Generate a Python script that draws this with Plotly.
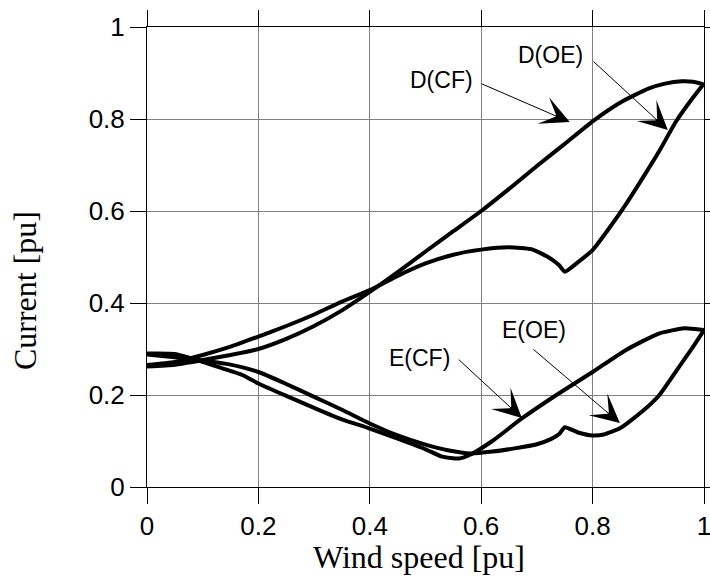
import plotly.graph_objects as go

# ---- data ----
dcf_x = [0, 0.05, 0.1, 0.15, 0.2, 0.25, 0.3, 0.35, 0.4, 0.45, 0.5, 0.55, 0.6, 0.65, 0.7, 0.75, 0.8, 0.85, 0.9, 0.93, 0.96, 0.98, 1.0]
dcf_y = [0.262, 0.266, 0.276, 0.287, 0.300, 0.322, 0.350, 0.384, 0.424, 0.467, 0.512, 0.556, 0.600, 0.648, 0.698, 0.746, 0.795, 0.836, 0.866, 0.877, 0.882, 0.881, 0.875]

doe_x = [0, 0.05, 0.1, 0.15, 0.2, 0.25, 0.3, 0.35, 0.4, 0.45, 0.5, 0.55, 0.6, 0.65, 0.69, 0.72, 0.74, 0.75, 0.775, 0.8, 0.83, 0.86, 0.89, 0.92, 0.95, 0.975, 1.0]
doe_y = [0.265, 0.272, 0.287, 0.305, 0.327, 0.350, 0.375, 0.403, 0.428, 0.459, 0.486, 0.505, 0.516, 0.521, 0.517, 0.500, 0.482, 0.468, 0.490, 0.515, 0.563, 0.615, 0.672, 0.731, 0.795, 0.838, 0.877]

ecf_x = [0, 0.05, 0.1, 0.135, 0.172, 0.2, 0.25, 0.3, 0.35, 0.4, 0.45, 0.5, 0.53, 0.56, 0.58, 0.62, 0.673, 0.735, 0.8, 0.86, 0.92, 0.965, 1.0]
ecf_y = [0.290, 0.289, 0.272, 0.258, 0.243, 0.225, 0.198, 0.172, 0.147, 0.127, 0.105, 0.082, 0.066, 0.062, 0.070, 0.100, 0.149, 0.200, 0.250, 0.298, 0.334, 0.345, 0.341]

eoe_x = [0, 0.05, 0.1, 0.15, 0.2, 0.25, 0.3, 0.35, 0.4, 0.45, 0.5, 0.54, 0.58, 0.62, 0.66, 0.7, 0.725, 0.74, 0.75, 0.775, 0.8, 0.82, 0.85, 0.89, 0.92, 0.95, 0.98, 1.0]
eoe_y = [0.288, 0.282, 0.275, 0.266, 0.250, 0.224, 0.196, 0.168, 0.138, 0.112, 0.092, 0.080, 0.073, 0.077, 0.084, 0.093, 0.104, 0.115, 0.130, 0.118, 0.112, 0.114, 0.128, 0.165, 0.200, 0.252, 0.304, 0.341]

tick_vals = [0, 0.2, 0.4, 0.6, 0.8, 1.0]
tick_text = ["0", "0.2", "0.4", "0.6", "0.8", "1"]

labels = ["D(CF)", "D(OE)", "E(CF)", "E(OE)"]
label_x = [0.528, 0.724, 0.490, 0.695]
label_y = [0.885, 0.939, 0.280, 0.341]
arrow_tail_x = [0.598, 0.799, 0.557, 0.691]
arrow_tail_y = [0.878, 0.928, 0.280, 0.302]
arrow_head_x = [0.759, 0.935, 0.673, 0.849]
arrow_head_y = [0.7935, 0.776, 0.150, 0.139]

fig = go.Figure()
for xs, ys in [(dcf_x, dcf_y), (doe_x, doe_y), (ecf_x, ecf_y), (eoe_x, eoe_y)]:
    fig.add_trace(go.Scatter(x=xs, y=ys, mode="lines",
                             line=dict(color="black", width=4, shape="spline", smoothing=0.5),
                             hoverinfo="skip"))

for t, lx, ly in zip(labels, label_x, label_y):
    fig.add_annotation(x=lx, y=ly, xref="x", yref="y", text=t, showarrow=False,
                       font=dict(family="Liberation Sans, Arial", size=23, color="black"),
                       xanchor="center", yanchor="middle")

for tx, ty, hx, hy in zip(arrow_tail_x, arrow_tail_y, arrow_head_x, arrow_head_y):
    fig.add_annotation(x=hx, y=hy, ax=tx, ay=ty, xref="x", yref="y", axref="x", ayref="y",
                       text="", showarrow=True, arrowhead=3, arrowsize=4.8, arrowwidth=1,
                       arrowcolor="black", standoff=0, startstandoff=0)

fig.add_annotation(x=-0.219, y=0.426, xref="paper", yref="paper", text="Current [pu]",
                   textangle=-90, showarrow=False,
                   font=dict(family="Liberation Serif, Times New Roman", size=32, color="black"),
                   xanchor="center", yanchor="middle")
fig.add_annotation(x=0.488, y=-0.152, xref="paper", yref="paper", text="Wind speed [pu]",
                   showarrow=False,
                   font=dict(family="Liberation Serif, Times New Roman", size=32, color="black"),
                   xanchor="center", yanchor="middle")

axis_common = dict(range=[0, 1], tickvals=tick_vals, ticktext=tick_text,
                   ticks="outside", ticklen=16, tickwidth=1, tickcolor="black",
                   showline=True, linecolor="black", linewidth=1, mirror="ticks",
                   showgrid=True, gridcolor="#808080", gridwidth=1, zeroline=False,
                   automargin=False, ticklabeloverflow="allow",
                   tickfont=dict(family="Liberation Sans, Arial", size=26, color="black"))
fig.update_xaxes(**axis_common)
fig.update_yaxes(**axis_common)

fig.update_layout(width=710, height=577, margin=dict(l=147, r=6, t=27, b=90),
                  plot_bgcolor="white", paper_bgcolor="white", showlegend=False)

fig.write_html("out.html")
